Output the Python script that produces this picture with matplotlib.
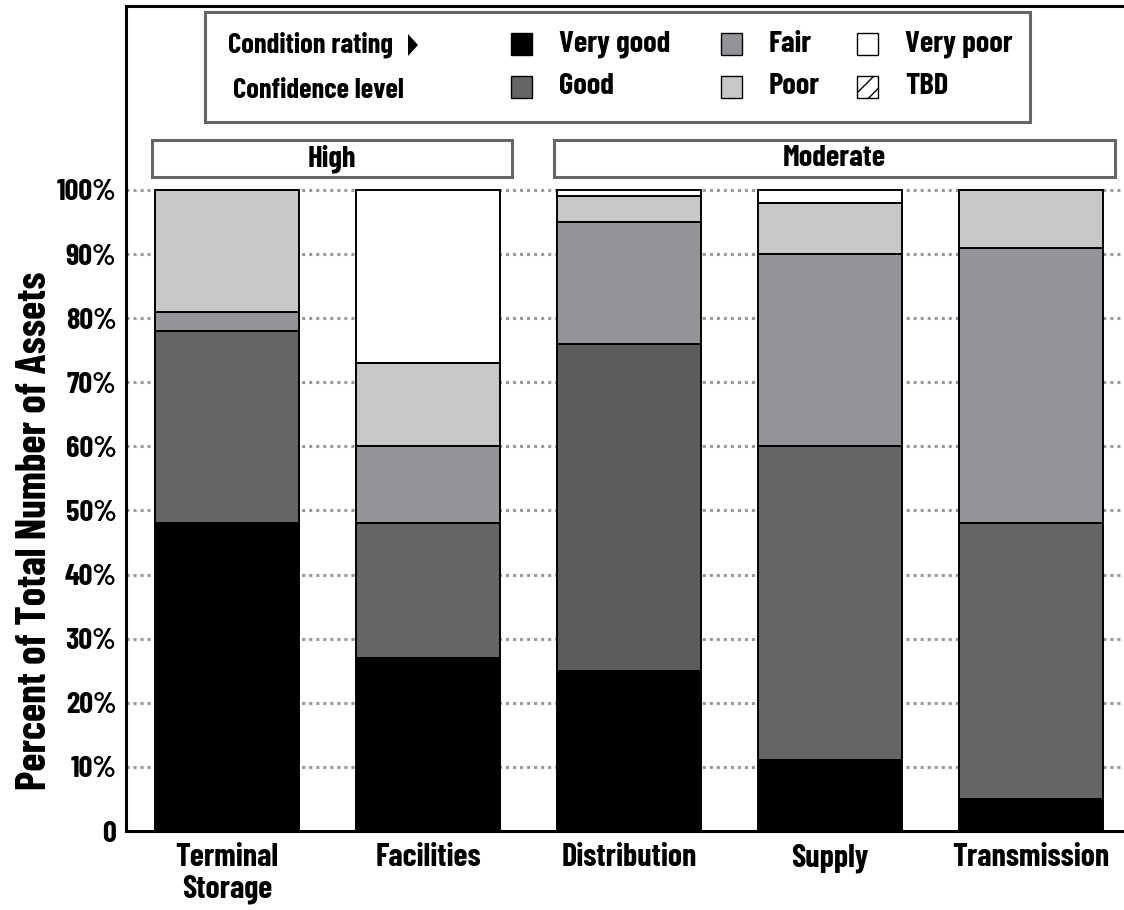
import matplotlib
matplotlib.use("Agg")
import matplotlib.pyplot as plt
from matplotlib.patches import Rectangle, Polygon

# ---- data ----
categories = ["Terminal\nStorage", "Facilities", "Distribution", "Supply", "Transmission"]
very_good = [48, 27, 25, 11, 5]
good      = [30, 21, 51, 49, 43]
fair      = [3, 12, 19, 30, 43]
poor      = [19, 13, 4, 8, 9]
very_poor = [0, 27, 1, 2, 0]
confidence_groups = ["High", "Moderate"]
group_members = [[0, 1], [2, 3, 4]]
yticks = [0, 10, 20, 30, 40, 50, 60, 70, 80, 90, 100]
ytick_labels = ["0"] + [f"{v}%" for v in yticks[1:]]
legend_labels = ["Very good", "Good", "Fair", "Poor", "Very poor", "TBD"]

# ---- style ----
FAM = ["Barlow Condensed", "Liberation Sans", "DejaVu Sans"]
plt.rcParams["font.family"] = FAM
WT = 700
FS = 22

C_VG = "#000000"
C_G = "#646567"
C_G_ALT = "#5b5c5e"
C_F = "#939498"
C_P = "#c6c7c9"
C_VP = "#ffffff"
good_colors = [C_G, C_G, C_G_ALT, C_G, C_G]

W, H = 1124, 910
fig = plt.figure(figsize=(W / 100, H / 100), dpi=100)

def fx(x):
    return x / W

def fy(y):
    return 1 - y / H

ax_left, ax_top, ax_bottom = 126, 6, 831
ax = fig.add_axes([fx(ax_left), fy(ax_bottom), 1 - fx(ax_left), (ax_bottom - ax_top) / H])

spacing_px = 201.0
first_center_px = 227.0
xl = -(first_center_px - ax_left) / spacing_px
xr = xl + (W - ax_left) / spacing_px
ax.set_xlim(xl, xr)
px_per_unit_y = (ax_bottom - 190) / 100.0
ax.set_ylim(0, (ax_bottom - ax_top) / px_per_unit_y)

x = list(range(len(categories)))
bw = 0.72
series = [(very_good, [C_VG] * 5), (good, good_colors), (fair, [C_F] * 5),
          (poor, [C_P] * 5), (very_poor, [C_VP] * 5)]
bottom = [0] * len(categories)
for vals, cols in series:
    ax.bar(x, vals, bw, bottom=bottom, color=cols, edgecolor="black", linewidth=1.4, zorder=3)
    bottom = [b + v for b, v in zip(bottom, vals)]

# grid
for t in yticks[1:]:
    ax.axhline(t, color="#999999", linestyle=(0, (1, 1.3)), linewidth=2.2, zorder=1)

ax.set_yticks(yticks)
ax.set_yticklabels(ytick_labels, fontsize=FS, fontweight=WT)
ax.set_xticks(x)
ax.set_xticklabels(categories, fontsize=23, fontweight=WT, linespacing=1.1)
ax.tick_params(axis="both", length=0)
ax.tick_params(axis="y", pad=7)
ax.tick_params(axis="x", pad=9)
for s in ["left", "top", "bottom"]:
    ax.spines[s].set_linewidth(2.2)
ax.spines["right"].set_visible(False)

fig.text(fx(35), fy(531), "Percent of Total Number of Assets", rotation=90,
         ha="center", va="center", fontsize=30, fontweight=WT)

# confidence group header boxes
box_y0 = (ax_bottom - 177) / px_per_unit_y
box_y1 = (ax_bottom - 140) / px_per_unit_y
pad_l, pad_r = 0.373, 0.42
for name, members in zip(confidence_groups, group_members):
    x0 = members[0] - pad_l
    x1 = members[-1] + pad_r
    ax.add_patch(Rectangle((x0, box_y0), x1 - x0, box_y1 - box_y0, facecolor="white",
                           edgecolor="#666666", linewidth=2.2, zorder=4, clip_on=False))
    ax.text((x0 + x1) / 2, (box_y0 + box_y1) / 2, name, ha="center", va="center",
            fontsize=FS, fontweight=WT, zorder=5)

# legend box
fig.add_artist(Rectangle((fx(205), fy(122)), fx(1030) - fx(205), (122 - 12) / H,
                         transform=fig.transFigure, facecolor="white", edgecolor="#666666",
                         linewidth=2.2, zorder=5))
fig.text(fx(228), fy(45), "Condition rating", ha="left", va="center", fontsize=20.5,
         fontweight=WT, zorder=6)
fig.add_artist(Polygon([(fx(408), fy(34)), (fx(408), fy(56)), (fx(418), fy(45))],
                       closed=True, transform=fig.transFigure, facecolor="black",
                       edgecolor="none", zorder=6))
fig.text(fx(233), fy(90), "Confidence level", ha="left", va="center", fontsize=20.5,
         fontweight=WT, zorder=6)

leg_colors = [C_VG, C_G, C_F, C_P, C_VP, "white"]
leg_cols_px = [511, 511, 721, 721, 857, 857]
leg_rows_px = [44, 87, 44, 87, 44, 87]
for lab, col, lx, ly in zip(legend_labels, leg_colors, leg_cols_px, leg_rows_px):
    hatch = "//" if lab == "TBD" else None
    fig.add_artist(Rectangle((fx(lx), fy(ly + 11)), 21 / W, 22 / H, transform=fig.transFigure,
                             facecolor=col, edgecolor="black", linewidth=1.0, hatch=hatch,
                             zorder=6))
    fig.text(fx(lx + 48), fy(ly), lab, ha="left", va="center", fontsize=FS,
             fontweight=WT, zorder=6)

fig.savefig("out.png", dpi=100)
